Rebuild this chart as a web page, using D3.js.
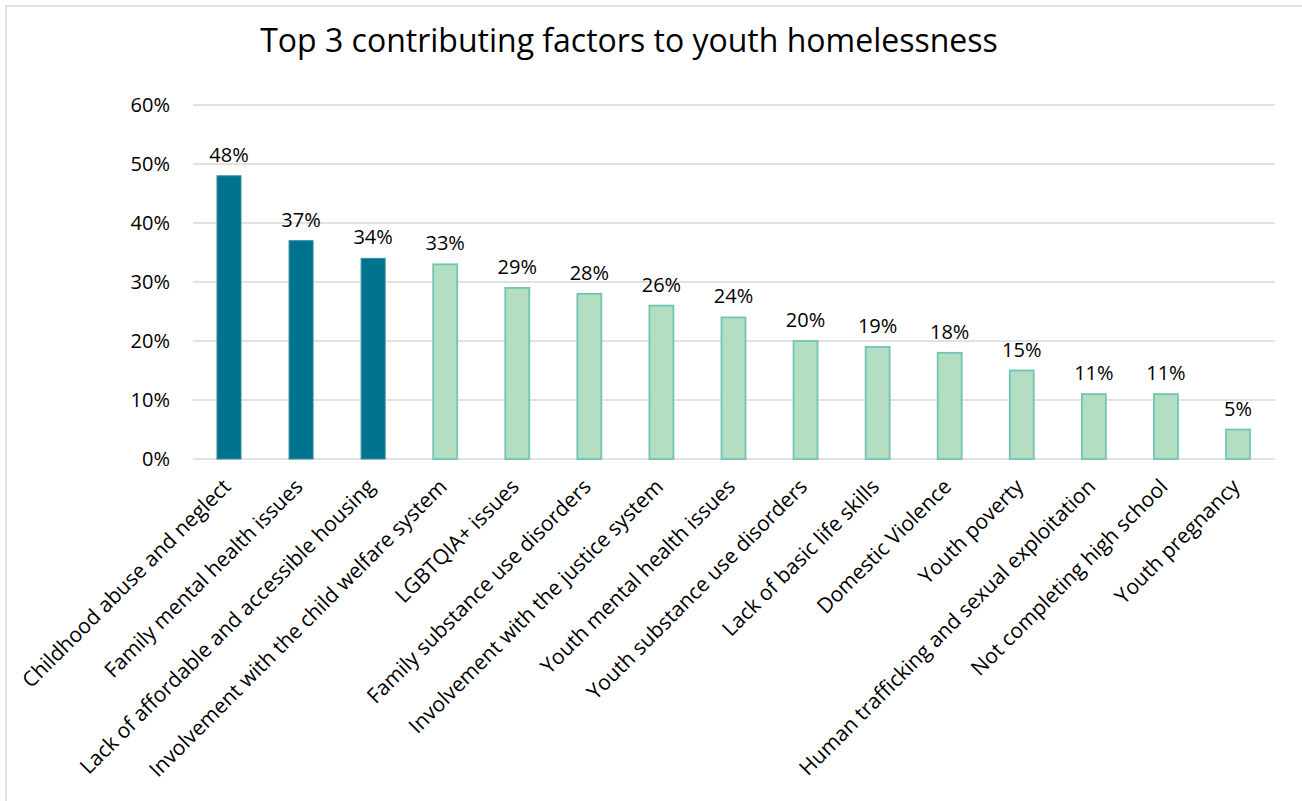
<!DOCTYPE html>
<html>
<head>
<meta charset="utf-8">
<script src="https://cdn.jsdelivr.net/npm/d3@7"></script>
<style>
  html, body { margin: 0; padding: 0; background: #fff; }
  svg { display: block; }
  text { font-family: "Open Sans", Lato, sans-serif; fill: #000; }
</style>
</head>
<body>
<svg id="chart" width="1302" height="801"></svg>
<script>
// Share of respondents naming each factor among their top three
const categories = [
  "Childhood abuse and neglect",
  "Family mental health issues",
  "Lack of affordable and accessible housing",
  "Involvement with the child welfare system",
  "LGBTQIA+ issues",
  "Family substance use disorders",
  "Involvement with the justice system",
  "Youth mental health issues",
  "Youth substance use disorders",
  "Lack of basic life skills",
  "Domestic Violence",
  "Youth poverty",
  "Human trafficking and sexual exploitation",
  "Not completing high school",
  "Youth pregnancy"
];
const values = [0.48, 0.37, 0.34, 0.33, 0.29, 0.28, 0.26, 0.24, 0.20, 0.19, 0.18, 0.15, 0.11, 0.11, 0.05];
const topCount = 3; // the leading factors get the dark fill
const yTicks = [0, 0.1, 0.2, 0.3, 0.4, 0.5, 0.6];
const title = "Top 3 contributing factors to youth homelessness";

const FONT = "'Open Sans', Lato, sans-serif";
const NUM_SIZE = "20px";
const CAT_SIZE = "21px";

const svg = d3.select("#chart");

// chart frame (top and left edges visible)
svg.append("rect")
  .attr("x", 6).attr("y", 6)
  .attr("width", 1400).attr("height", 900)
  .attr("fill", "none")
  .attr("stroke", "#d9d9d9")
  .attr("stroke-width", 1.5);

const plot = { left: 193, right: 1274, top: 105, bottom: 459 };

const x = d3.scaleBand()
  .domain(categories)
  .range([plot.left, plot.right])
  .paddingInner(0.667)
  .paddingOuter(0.333);

const y = d3.scaleLinear()
  .domain([0, 0.6])
  .range([plot.bottom, plot.top]);

// title
svg.append("text")
  .attr("x", 629)
  .attr("y", 52)
  .attr("text-anchor", "middle")
  .style("font-size", "32px")
  .text(title);

// horizontal gridlines
svg.append("g")
  .selectAll("line")
  .data(yTicks)
  .join("line")
  .attr("x1", plot.left)
  .attr("x2", plot.right + 1)
  .attr("y1", d => y(d))
  .attr("y2", d => y(d))
  .attr("stroke", "#d9d9d9")
  .attr("stroke-width", 1.5);

// y axis labels
const yAxis = d3.axisLeft(y)
  .tickValues(yTicks)
  .tickFormat(d3.format(".0%"))
  .tickSize(0)
  .tickPadding(23);
const yg = svg.append("g")
  .attr("transform", `translate(${plot.left},0)`)
  .call(yAxis);
yg.select(".domain").remove();
yg.selectAll("text")
  .style("font-size", NUM_SIZE)
  .style("font-family", FONT)
  .attr("fill", "#000");

// bars
svg.append("g")
  .selectAll("rect")
  .data(values)
  .join("rect")
  .attr("x", (d, i) => x(categories[i]))
  .attr("y", d => y(d))
  .attr("width", x.bandwidth())
  .attr("height", d => y(0) - y(d))
  .attr("fill", (d, i) => i < topCount ? "#00748f" : "#b3dec2")
  .attr("stroke", (d, i) => i < topCount ? "#2e8ea3" : "#70c5b3")
  .attr("stroke-width", (d, i) => i < topCount ? 1 : 1.8);

// value labels
svg.append("g")
  .selectAll("text")
  .data(values)
  .join("text")
  .attr("x", (d, i) => x(categories[i]) + x.bandwidth() / 2)
  .attr("y", d => y(d) - 14)
  .attr("text-anchor", "middle")
  .style("font-size", NUM_SIZE)
  .text(d => d3.format(".0%")(d));

// category labels, rotated
const xAxis = d3.axisBottom(x).tickSize(0).tickPadding(0);
const xg = svg.append("g")
  .attr("transform", `translate(0,${plot.bottom})`)
  .call(xAxis);
xg.select(".domain").remove();
xg.selectAll("text")
  .style("font-size", CAT_SIZE)
  .style("font-family", FONT)
  .attr("fill", "#000")
  .attr("text-anchor", "end")
  .attr("dy", null)
  .attr("y", 0)
  .attr("transform", "translate(3,29) rotate(-45)");
</script>
</body>
</html>
